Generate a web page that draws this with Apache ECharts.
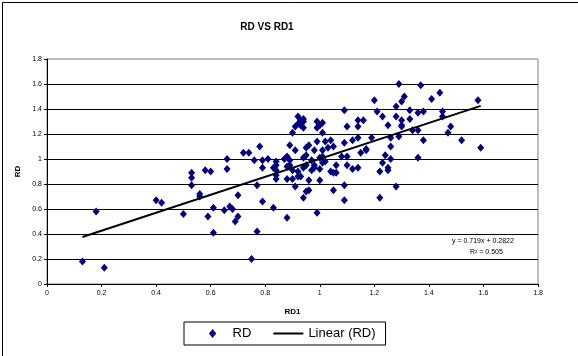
<!DOCTYPE html>
<html>
<head>
<meta charset="utf-8">
<script src="https://cdn.jsdelivr.net/npm/echarts@6/dist/echarts.min.js"></script>
<style>
html,body{margin:0;padding:0;background:#fff;}
#c{width:578px;height:356px;}
</style>
</head>
<body>
<div id="c"></div>
<script>
// RD1 (x) values
var rd1 = [
0.13,0.18,0.21,0.40,0.42,0.50,0.53,0.53,0.53,0.56,0.56,0.58,0.60,0.59,
0.61,0.61,0.66,0.66,0.65,0.67,0.68,0.69,0.70,0.70,0.72,0.74,0.75,0.76,0.78,0.77,0.77,0.79,0.79,0.79,0.81,0.83,
0.92,0.93,0.92,0.91,0.90,0.89,0.91,0.84,0.84,0.84,0.84,0.84,0.83,0.87,0.88,0.89,0.89,0.88,0.90,0.92,0.92,0.90,0.88,0.91,0.88,0.94,
1.09,0.94,0.94,0.93,0.94,0.99,1.00,0.99,1.01,1.01,1.10,0.96,0.95,0.99,1.02,1.04,1.03,1.05,1.09,0.98,0.95,0.97,0.94,1.00,1.01,1.01,0.98,0.98,0.97,1.00,1.04,1.05,1.06,1.06,1.08,1.10,0.94,0.95,0.93,0.96,1.00,0.96,0.95,1.05,1.09,1.09,0.99,1.01,1.02,
1.20,1.21,1.23,1.25,1.14,1.16,1.14,1.12,1.14,1.19,1.26,1.26,1.17,1.17,1.15,1.10,1.24,1.26,1.12,1.14,1.23,1.22,1.25,1.25,1.22,
1.29,1.37,1.31,1.30,1.28,1.41,1.33,1.36,1.38,1.28,1.30,1.30,1.30,1.33,1.34,1.36,1.29,1.38,1.36,1.28,
1.44,1.58,1.45,1.45,1.48,1.47,1.52,1.59
];
// RD (y) values
var rd = [
0.18,0.58,0.13,0.67,0.65,0.56,0.89,0.85,0.79,0.72,0.70,0.91,0.90,0.54,
0.61,0.41,1.00,0.92,0.59,0.62,0.60,0.50,0.54,0.71,1.05,1.05,0.20,0.99,1.10,0.79,0.42,0.99,0.93,0.66,1.00,0.61,
1.34,1.31,1.28,1.26,1.21,1.11,1.07,0.98,0.95,0.91,0.87,0.84,0.93,1.00,1.02,0.99,0.95,0.94,0.91,0.90,0.86,0.84,0.84,0.78,0.53,0.69,
1.39,1.32,1.30,1.27,1.25,1.30,1.27,1.25,1.29,1.21,1.26,1.11,1.09,1.14,1.14,1.15,1.09,1.10,1.13,1.07,1.03,0.99,1.01,1.01,1.02,0.97,0.95,0.93,0.91,0.92,0.90,0.89,0.95,0.89,1.02,0.95,0.93,0.95,0.86,0.83,0.83,0.75,0.74,0.75,0.79,0.67,0.57,1.07,0.98,
1.47,1.38,1.34,1.27,1.31,1.31,1.26,1.15,1.17,1.17,1.17,1.10,1.08,1.07,1.05,1.02,1.03,1.00,0.92,0.93,0.97,0.90,0.93,0.91,0.69,
1.60,1.59,1.50,1.46,1.42,1.48,1.39,1.37,1.38,1.34,1.31,1.27,1.26,1.32,1.23,1.23,1.18,1.15,1.01,0.78,
1.53,1.47,1.38,1.34,1.26,1.21,1.15,1.09
];
// Linear trend line end points (as drawn)
var trendX = [0.13, 1.59];
var trendY = [0.376, 1.425];
var equationText = 'y = 0.719x + 0.2822';
var r2Text = 'R\u00B2 = 0.505';

var scatterData = rd1.map(function(x, i){ return [x, rd[i]]; });
var trendData = trendX.map(function(x, i){ return [x, trendY[i]]; });

var FONT = '"Liberation Sans", Arial, sans-serif';
var chart = echarts.init(document.getElementById('c'), null, {renderer:'canvas'});
chart.setOption({
  animation: false,
  backgroundColor: '#ffffff',
  title: {
    text: 'RD VS RD1',
    left: 262, top: 17, textAlign: 'center',
    textStyle: {fontFamily: FONT, fontSize: 10, fontWeight: 'bold', color: '#000'}
  },
  grid: {
    left: 47, right: 40, top: 59, bottom: 72,
    show: true, borderColor: '#808080', borderWidth: 1, backgroundColor: '#ffffff'
  },
  xAxis: {
    type: 'value', min: 0, max: 1.8, interval: 0.2,
    name: 'RD1', nameLocation: 'middle', nameGap: 24,
    nameTextStyle: {fontFamily: FONT, fontSize: 8, fontWeight: 'bold', color: '#000'},
    axisLine: {show: true, lineStyle: {color: '#000', width: 1}},
    axisTick: {show: true, length: 3, inside: false, lineStyle: {color: '#000'}},
    axisLabel: {fontFamily: FONT, fontSize: 7, color: '#000', margin: 6,
      formatter: function(v){ return String(Math.round(v*10)/10); }},
    splitLine: {show: false}
  },
  yAxis: {
    type: 'value', min: 0, max: 1.8, interval: 0.2,
    name: 'RD', nameLocation: 'middle', nameGap: 19, nameRotate: 90,
    nameTextStyle: {fontFamily: FONT, fontSize: 8, fontWeight: 'bold', color: '#000'},
    axisLine: {show: true, lineStyle: {color: '#000', width: 1}},
    axisTick: {show: true, length: 3, lineStyle: {color: '#000'}},
    axisLabel: {fontFamily: FONT, fontSize: 7, color: '#000', margin: 5,
      formatter: function(v){ return String(Math.round(v*10)/10); }},
    splitLine: {show: true, showMaxLine: false, lineStyle: {color: '#000', width: 1}}
  },
  legend: {
    left: 184, top: 322,
    padding: [5, 10, 5, 25],
    borderColor: '#000', borderWidth: 1,
    itemWidth: 30, itemHeight: 9, itemGap: 22,
    symbolKeepAspect: true,
    textStyle: {fontFamily: FONT, fontSize: 13, color: '#000'},
    data: [
      {name: 'RD', icon: 'path://M4,0L8,5L4,10L0,5Z', itemStyle: {color: '#000080'}},
      {name: 'Linear (RD)', icon: 'path://M0,0H30V2H0Z', itemStyle: {color: '#000'}}
    ]
  },
  series: [
    {
      name: 'RD', type: 'scatter', symbol: 'diamond', symbolSize: [7, 8],
      itemStyle: {color: '#000080', opacity: 1},
      data: scatterData, z: 3
    },
    {
      name: 'Linear (RD)', type: 'line', symbol: 'none', showSymbol: false,
      lineStyle: {color: '#000', width: 2},
      itemStyle: {color: '#000'},
      data: trendData, z: 4
    }
  ],
  graphic: [
    {type: 'rect', left: 0, top: 0, z: 100, silent: true,
      shape: {x: 0.5, y: 0.5, width: 577, height: 355},
      style: {fill: 'none', stroke: '#000', lineWidth: 1}},
    {type: 'text', left: 452, top: 238, z: 100,
      style: {text: equationText, fontFamily: FONT, fontSize: 7, fill: '#000'}},
    {type: 'text', left: 470, top: 249, z: 100,
      style: {text: r2Text, fontFamily: FONT, fontSize: 7, fill: '#000'}}
  ]
});
</script>
</body>
</html>
